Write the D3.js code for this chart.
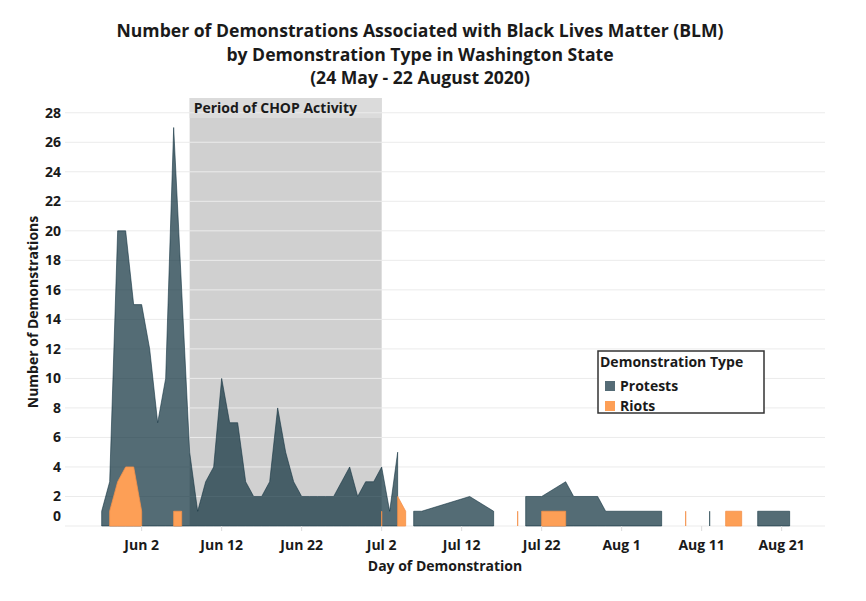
<!DOCTYPE html>
<html><head><meta charset="utf-8">
<script src="https://cdn.jsdelivr.net/npm/d3@7"></script>
<style>
body{margin:0;background:#fff}
text{font-family:"Open Sans",sans-serif;font-weight:700;fill:#1a1a1a}
</style>
</head><body>
<svg id="chart" width="866" height="601"></svg>
<script>
// ---- data ----
const titleLines = [
  "Number of Demonstrations Associated with Black Lives Matter (BLM)",
  "by Demonstration Type in Washington State",
  "(24 May - 22 August 2020)"
];
const xAxisTitle = "Day of Demonstration";
const yAxisTitle = "Number of Demonstrations";
const yTicks = [0,2,4,6,8,10,12,14,16,18,20,22,24,26,28];
const xTickDates = ["2020-06-02","2020-06-12","2020-06-22","2020-07-02","2020-07-12","2020-07-22","2020-08-01","2020-08-11","2020-08-21"];
const xTickLabels = ["Jun 2","Jun 12","Jun 22","Jul 2","Jul 12","Jul 22","Aug 1","Aug 11","Aug 21"];
const seriesNames = ["Protests","Riots"];
const legendTitle = "Demonstration Type";
const chopPeriod = ["2020-06-08","2020-07-02"];
const chopLabel = "Period of CHOP Activity";

const protestDates = ["2020-05-28","2020-05-29","2020-05-30","2020-05-31","2020-06-01","2020-06-02","2020-06-03","2020-06-04","2020-06-05","2020-06-06","2020-06-07","2020-06-08","2020-06-09","2020-06-10","2020-06-11","2020-06-12","2020-06-13","2020-06-14","2020-06-15","2020-06-16","2020-06-17","2020-06-18","2020-06-19","2020-06-20","2020-06-21","2020-06-22","2020-06-23","2020-06-24","2020-06-25","2020-06-26","2020-06-27","2020-06-28","2020-06-29","2020-06-30","2020-07-01","2020-07-02","2020-07-03","2020-07-04","2020-07-05","2020-07-06","2020-07-07","2020-07-13","2020-07-16","2020-07-17","2020-07-20","2020-07-22","2020-07-25","2020-07-26","2020-07-29","2020-07-30","2020-08-06","2020-08-07","2020-08-12","2020-08-13","2020-08-18","2020-08-22"];
const protestValues = [1,3,20,20,15,15,12,7,10,27,16,5,1,3,4,10,7,7,3,2,2,3,8,5,3,2,2,2,2,2,3,4,2,3,3,4,1,5,null,1,1,2,1,null,2,2,3,2,2,1,1,null,1,null,1,1];

const riotDates = ["2020-05-29","2020-05-30","2020-05-31","2020-06-01","2020-06-02","2020-06-03","2020-06-06","2020-06-07","2020-06-08","2020-07-02","2020-07-03","2020-07-04","2020-07-05","2020-07-06","2020-07-19","2020-07-20","2020-07-22","2020-07-25","2020-07-26","2020-08-09","2020-08-10","2020-08-14","2020-08-16"];
const riotValues = [1,3,4,4,1,null,1,1,null,1,null,2,1,null,1,null,1,1,null,1,null,1,1];

// ---- drawing ----
const parse = d3.timeParse("%Y-%m-%d");
const svg = d3.select("#chart");
const pLeft = 65, pRight = 825, pTop = 98, pBottom = 526;

const x = d3.scaleTime()
  .domain([new Date(2020,4,23,10), new Date(2020,7,26,10)])
  .range([pLeft, pRight]);
const y = d3.scaleLinear().domain([0, 29]).range([pBottom, pTop]);

// CHOP shaded period
const cx0 = x(parse(chopPeriod[0])), cx1 = x(parse(chopPeriod[1]));
svg.append("rect").attr("x", cx0).attr("y", pTop).attr("width", cx1 - cx0)
  .attr("height", pBottom - pTop).attr("fill", "#d0d0d0");
svg.append("rect").attr("x", cx0).attr("y", pTop).attr("width", cx1 - cx0)
  .attr("height", 20).attr("fill", "#dbdbdb");

// gridlines
svg.append("g").selectAll("line").data(yTicks).join("line")
  .attr("x1", pLeft).attr("x2", pRight)
  .attr("y1", d => y(d)).attr("y2", d => y(d))
  .attr("stroke", "#ebebeb").attr("stroke-width", 1);

// areas
const area = d3.area()
  .defined(d => d.v != null)
  .x(d => x(d.date))
  .y0(y(0))
  .y1(d => y(d.v));

const protests = protestDates.map((d, i) => ({date: parse(d), v: protestValues[i]}));
const riots = riotDates.map((d, i) => ({date: parse(d), v: riotValues[i]}));

svg.append("path").datum(protests).attr("d", area)
  .attr("fill", "rgba(12,45,59,0.7)")
  .attr("stroke", "rgba(12,45,59,0.7)").attr("stroke-width", 0.8)
  .attr("stroke-linejoin", "miter");
svg.append("path").datum(riots).attr("d", area)
  .attr("fill", "#fd9f56")
  .attr("stroke", "#f4914a").attr("stroke-width", 0.8);

// CHOP label
svg.append("text").attr("x", cx0 + 4).attr("y", pTop + 15)
  .attr("font-size", 14).text(chopLabel);

// x ticks
const xt = svg.append("g");
xTickDates.forEach((d, i) => {
  const px = x(parse(d));
  xt.append("line").attr("x1", px).attr("x2", px).attr("y1", pBottom).attr("y2", pBottom + 5)
    .attr("stroke", "#dcdcdc");
  xt.append("text").attr("x", px).attr("y", pBottom + 24).attr("text-anchor", "middle")
    .attr("font-size", 14).text(xTickLabels[i]);
});

// y tick labels
svg.append("g").selectAll("text").data(yTicks).join("text")
  .attr("x", 61).attr("text-anchor", "end").attr("font-size", 14)
  .attr("y", d => d === 0 ? y(d) - 5 : y(d) + 5)
  .text(d => d);

// axis titles
svg.append("text").attr("x", (pLeft + pRight) / 2).attr("y", 571)
  .attr("text-anchor", "middle").attr("font-size", 14).text(xAxisTitle);
svg.append("text").attr("transform", `translate(38,${(pTop + pBottom) / 2}) rotate(-90)`)
  .attr("text-anchor", "middle").attr("font-size", 14).text(yAxisTitle);

// title
svg.append("g").selectAll("text").data(titleLines).join("text")
  .attr("x", 420).attr("y", (d, i) => 37 + i * 23.5)
  .attr("text-anchor", "middle").attr("font-size", 17.6).text(d => d);

// legend
const lg = svg.append("g").attr("transform", "translate(598,351)");
lg.append("rect").attr("width", 166).attr("height", 62)
  .attr("fill", "#fff").attr("stroke", "#333").attr("stroke-width", 1.5);
lg.append("text").attr("x", 2).attr("y", 16).attr("font-size", 14).text(legendTitle);
const legendColors = ["#556c76", "#fd9f56"];
seriesNames.forEach((s, i) => {
  lg.append("rect").attr("x", 7).attr("y", 30 + i * 20).attr("width", 10).attr("height", 10)
    .attr("fill", legendColors[i]);
  lg.append("text").attr("x", 22).attr("y", 40 + i * 20).attr("font-size", 14).text(s);
});
</script>
</body></html>
